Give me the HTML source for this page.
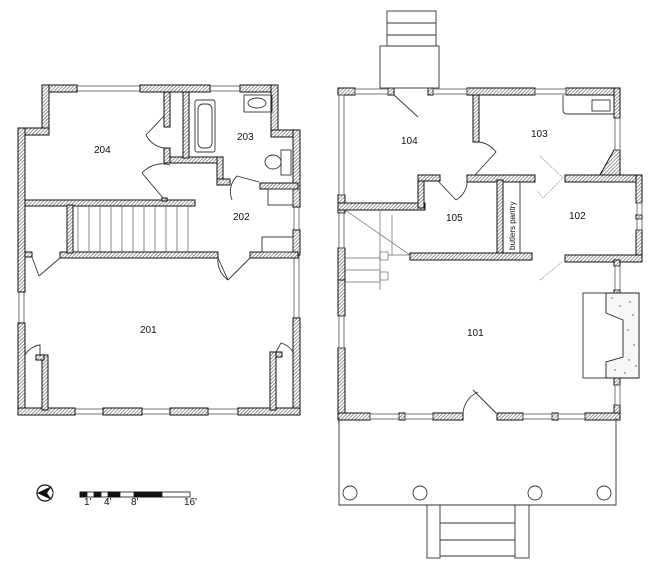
<!DOCTYPE html>
<html><head><meta charset="utf-8"><style>
html,body{margin:0;padding:0;background:#fff}
svg{display:block}
text{font-family:"Liberation Sans",sans-serif;font-size:10px;fill:#111}
</style></head><body>
<svg width="650" height="569" viewBox="0 0 650 569" xmlns="http://www.w3.org/2000/svg">
<defs>
<pattern id="h" width="2.5" height="2.5" patternUnits="userSpaceOnUse" patternTransform="rotate(45)">
<rect width="2.5" height="2.5" fill="#fff"/><line x1="0" y1="0" x2="0" y2="2.5" stroke="#555" stroke-width="1.2"/>
</pattern>
</defs>
<g fill="none" stroke="#555" stroke-width="0.8">
<rect x="77" y="86" width="63" height="5"/><rect x="210" y="86" width="30" height="5"/>
<rect x="19" y="292" width="5" height="31"/>
<rect x="294" y="207" width="5" height="23"/><rect x="294" y="255" width="5" height="63"/>
<rect x="75" y="409" width="28" height="5"/><rect x="142" y="409" width="28" height="5"/><rect x="208" y="409" width="30" height="5"/>
</g>
<g fill="url(#h)" stroke="#111" stroke-width="1">
<rect x="42" y="85" width="35" height="7"/><rect x="140" y="85" width="70" height="7"/><rect x="240" y="85" width="38" height="7"/>
<rect x="42" y="85" width="7" height="45"/>
<rect x="18" y="128" width="31" height="7"/>
<rect x="18" y="128" width="7" height="164"/><rect x="18" y="323" width="7" height="92"/>
<rect x="271" y="85" width="7" height="47"/>
<rect x="271" y="130" width="29" height="7"/>
<rect x="293" y="130" width="7" height="77"/><rect x="293" y="230" width="7" height="25"/><rect x="293" y="318" width="7" height="97"/>
<rect x="18" y="408" width="57" height="7"/><rect x="103" y="408" width="39" height="7"/><rect x="170" y="408" width="38" height="7"/><rect x="238" y="408" width="62" height="7"/>
<rect x="25" y="200" width="170" height="6"/>
<rect x="60" y="252" width="158" height="6"/>
<rect x="25" y="252" width="7" height="5"/>
<rect x="67" y="205" width="6" height="48"/>
<rect x="250" y="252" width="48" height="6"/>
<rect x="42" y="355" width="6" height="55"/><rect x="36" y="355" width="8" height="5"/>
<rect x="270" y="352" width="6" height="58"/><rect x="276" y="352" width="6" height="5"/>
<rect x="164" y="92" width="6" height="35"/><rect x="164" y="148" width="6" height="15"/>
<rect x="170" y="157" width="49" height="6"/>
<rect x="183" y="92" width="6" height="66"/>
<rect x="217" y="157" width="6" height="28"/><rect x="217" y="179" width="13" height="6"/>
<rect x="260" y="183" width="38" height="6"/>
<rect x="162" y="198" width="5" height="3"/>

<rect x="338" y="88" width="17" height="7"/><rect x="388" y="88" width="6" height="7"/><rect x="428" y="88" width="5" height="7"/>
<rect x="467" y="88" width="68" height="7"/><rect x="566" y="88" width="54" height="7"/>
<rect x="338" y="195" width="7" height="18"/><rect x="338" y="203" width="87" height="7"/>
<rect x="338" y="248" width="7" height="35"/><rect x="338" y="280" width="7" height="36"/><rect x="338" y="348" width="7" height="72"/>
<rect x="473" y="95" width="6" height="47"/>
<rect x="614" y="88" width="6" height="30"/>
<polygon points="614,150 620,150 620,182 596,182"/>
<rect x="418" y="175" width="6" height="33"/><rect x="418" y="175" width="22" height="6"/>
<rect x="467" y="175" width="68" height="7"/>
<rect x="565" y="175" width="77" height="7"/>
<rect x="636" y="175" width="6" height="28"/><rect x="636" y="215" width="6" height="4"/><rect x="636" y="230" width="6" height="32"/>
<rect x="565" y="255" width="77" height="7"/>
<rect x="614" y="260" width="6" height="6"/>
<rect x="497" y="180" width="6" height="76"/>
<rect x="410" y="253" width="122" height="7"/>
<rect x="614" y="290" width="6" height="4"/><rect x="614" y="378" width="6" height="7"/><rect x="614" y="405" width="6" height="15"/>
<rect x="338" y="413" width="32" height="7"/><rect x="399" y="413" width="6" height="7"/><rect x="433" y="413" width="30" height="7"/>
<rect x="497" y="413" width="26" height="7"/><rect x="552" y="413" width="6" height="7"/><rect x="585" y="413" width="35" height="7"/>
</g>
<g fill="none" stroke="#555" stroke-width="0.8">
<rect x="355" y="89" width="33" height="5"/><rect x="433" y="89" width="34" height="5"/><rect x="535" y="89" width="31" height="5"/>
<rect x="339" y="95" width="5" height="100"/><rect x="339" y="213" width="5" height="35"/><rect x="339" y="316" width="5" height="32"/>
<rect x="615" y="118" width="5" height="32"/><rect x="637" y="203" width="5" height="12"/><rect x="637" y="219" width="5" height="11"/>
<rect x="615" y="266" width="5" height="24"/><rect x="615" y="385" width="5" height="20"/>
<rect x="370" y="414" width="29" height="5"/><rect x="405" y="414" width="28" height="5"/>
<rect x="523" y="414" width="29" height="5"/><rect x="558" y="414" width="27" height="5"/>
</g>
<g fill="none" stroke="#333" stroke-width="0.9">
<rect x="195" y="100" width="20" height="52" rx="2"/><rect x="198" y="104" width="14" height="44" rx="5"/>
<rect x="244" y="95" width="28" height="17"/><ellipse cx="257" cy="103" rx="9" ry="5"/>
<rect x="281" y="150" width="10" height="25"/><ellipse cx="273" cy="162" rx="8" ry="7"/>
<rect x="268" y="189" width="25" height="16"/><rect x="262" y="237" width="31" height="15"/>
<g stroke="#555" stroke-width="0.7">
<line x1="78" y1="206" x2="78" y2="252"/><line x1="89" y1="206" x2="89" y2="252"/><line x1="100" y1="206" x2="100" y2="252"/><line x1="111" y1="206" x2="111" y2="252"/><line x1="122" y1="206" x2="122" y2="252"/><line x1="133" y1="206" x2="133" y2="252"/><line x1="144" y1="206" x2="144" y2="252"/><line x1="155" y1="206" x2="155" y2="252"/><line x1="166" y1="206" x2="166" y2="252"/><line x1="177" y1="206" x2="177" y2="252"/><line x1="188" y1="206" x2="188" y2="252"/>
</g>
<path d="M164,116 L146,135 M146,135 A24,24 0 0 0 164,148"/>
<path d="M142,173 L163,198 M142,173 A27,27 0 0 1 170,165"/>
<path d="M237,176 L259,182 M237,176 A22,22 0 0 0 232,200"/>
<path d="M218,258 L228,280 M228,280 A24,24 0 0 1 218,258"/>
<path d="M250,258 L228,280"/>
<path d="M32,257 L39,276 M39,276 L60,258"/>
<path d="M25,355 A20,20 0 0 1 40,345 L40,356"/>
<path d="M293,352 A20,20 0 0 0 281,343 L276,352"/>
<rect x="387" y="11" width="49" height="35"/><line x1="387" y1="23" x2="436" y2="23"/><line x1="387" y1="35" x2="436" y2="35"/>
<rect x="380" y="46" width="59" height="42"/>
<path d="M563,95 L563,110 Q563,114 567,114 L614,114"/><rect x="592" y="100" width="18" height="11"/>
<line x1="520" y1="182" x2="520" y2="253"/>
<rect x="583" y="293" width="56" height="85" fill="#fff"/>
<polygon points="606,293 639,293 639,378 606,378 606,362 623,357 623,320 606,313" fill="#f6f6f6" stroke="#222"/>
<path d="M394,95 L418,117"/>
<path d="M479,142 A25,25 0 0 1 496,152 L475,175"/>
<path d="M438,181 L456,200 M456,200 A22,22 0 0 0 467,178"/>
<path d="M478,392 A25,25 0 0 0 463,413 M473,390 L496,413"/>
<path d="M540,156 L563,178 L543,198 L537,190" stroke="#aaa" stroke-dasharray="2,1"/>
<path d="M540,280 L562,262" stroke="#aaa" stroke-dasharray="2,1"/>
<g stroke="#666" stroke-width="0.7">
<line x1="345" y1="210" x2="410" y2="255"/>
<line x1="380" y1="210" x2="380" y2="290"/><line x1="392" y1="215" x2="392" y2="255"/>
<line x1="345" y1="258" x2="380" y2="258"/><line x1="345" y1="270" x2="380" y2="270"/><line x1="345" y1="282" x2="380" y2="282"/>
<rect x="380" y="252" width="8" height="8"/><rect x="380" y="272" width="8" height="8"/>
<line x1="388" y1="255" x2="410" y2="255"/>
</g>
<polyline points="339,418 339,505 616,505 616,418"/>
<circle cx="350" cy="493" r="7"/><circle cx="420" cy="493" r="7"/><circle cx="535" cy="493" r="7"/><circle cx="604" cy="493" r="7"/>
<rect x="427" y="505" width="13" height="53"/><rect x="515" y="505" width="14" height="53"/>
<line x1="440" y1="523" x2="515" y2="523"/><line x1="440" y1="540" x2="515" y2="540"/><line x1="440" y1="556" x2="515" y2="556"/>
<circle cx="45" cy="493" r="8" stroke="#111" stroke-width="1.2"/>
</g>
<g fill="#444">
<circle cx="612" cy="298" r="0.7"/><circle cx="630" cy="302" r="0.7"/><circle cx="633" cy="315" r="0.7"/><circle cx="628" cy="330" r="0.7"/><circle cx="634" cy="345" r="0.7"/><circle cx="629" cy="360" r="0.7"/><circle cx="615" cy="370" r="0.7"/><circle cx="625" cy="373" r="0.7"/><circle cx="636" cy="366" r="0.7"/><circle cx="620" cy="306" r="0.7"/>
</g>
<polygon points="37,493 52,486 47,493 52,500" fill="#111"/>
<text x="51" y="495" style="font-size:5px;fill:#fff">N</text>
<g stroke="#111" stroke-width="0.8">
<rect x="80" y="492" width="110" height="5" fill="#fff"/>
<rect x="80" y="492" width="7" height="5" fill="#111"/><rect x="94" y="492" width="7" height="5" fill="#111"/><rect x="108" y="492" width="12" height="5" fill="#111"/><rect x="134" y="492" width="28" height="5" fill="#111"/>
</g>
<g style="font-size:6px">
<text x="84" y="505">1'</text><text x="104" y="505">4'</text><text x="131" y="505">8'</text><text x="184" y="505">16'</text>
</g>
<text x="94" y="153">204</text><text x="237" y="140">203</text><text x="233" y="220">202</text><text x="140" y="333">201</text>
<text x="401" y="144">104</text><text x="531" y="137">103</text><text x="446" y="221">105</text><text x="569" y="219">102</text><text x="467" y="336">101</text>
<text transform="translate(515,250) rotate(-90)" style="font-size:8px">butlers pantry</text>
</svg>
</body></html>
